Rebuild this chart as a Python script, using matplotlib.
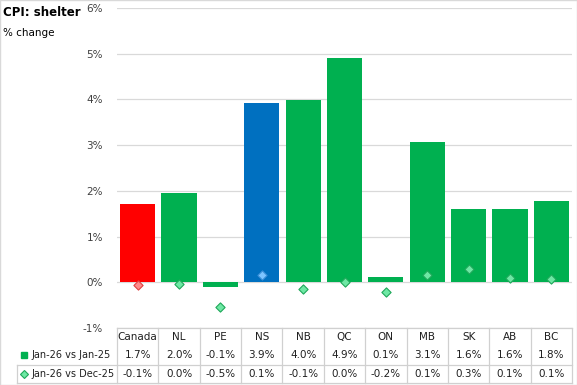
import matplotlib
matplotlib.use("Agg")
import matplotlib.pyplot as plt
from matplotlib.transforms import blended_transform_factory
from matplotlib.patches import Rectangle

# data
regions = ["Canada", "NL", "PE", "NS", "NB", "QC", "ON", "MB", "SK", "AB", "BC"]
yoy = [1.71, 1.96, -0.11, 3.92, 3.98, 4.9, 0.11, 3.06, 1.6, 1.6, 1.78]
mom = [-0.07, -0.04, -0.54, 0.15, -0.15, 0.0, -0.22, 0.15, 0.28, 0.09, 0.07]
yoy_label = "Jan-26 vs Jan-25"
mom_label = "Jan-26 vs Dec-25"
yticks = [-1, 0, 1, 2, 3, 4, 5, 6]

W, H = 577, 385
GREEN = "#00B050"
bar_colors = [GREEN] * len(regions)
bar_colors[0] = "#FF0000"
bar_colors[3] = "#0070C0"
dia_face = ["#6EE8A4"] * len(regions)
dia_edge = ["#1FA85A"] * len(regions)
dia_face[0], dia_edge[0] = "#FF8A8A", "#E04040"
dia_face[3], dia_edge[3] = "#7CC4FF", "#3A8FD8"

plt.rcParams["font.family"] = ["DejaVu Sans"]
fig = plt.figure(figsize=(W / 100, H / 100), dpi=100)
fig.patches.append(Rectangle((0, 0), 1, 1, transform=fig.transFigure,
                             fill=False, edgecolor="#D9D9D9", lw=1))

left, right, top, bottom = 117, 572, 8, 328
ax = fig.add_axes([left / W, 1 - bottom / H, (right - left) / W, (bottom - top) / H])

x = list(range(len(regions)))
ax.bar(x, yoy, width=0.85, color=bar_colors, zorder=2)
for i in x:
    ax.scatter(i, mom[i], marker="D", s=22, facecolor=dia_face[i],
               edgecolor=dia_edge[i], linewidth=0.8, zorder=3)

ax.set_xlim(-0.5, len(regions) - 0.5)
ax.set_ylim(-1, 6)
ax.set_yticks(yticks)
ax.set_yticklabels([f"{t}%" for t in yticks], fontsize=7.5, color="#404040")
ax.tick_params(axis="y", length=0, pad=10)
ax.set_xticks([])
ax.grid(axis="y", color="#D9D9D9", lw=0.9, zorder=0)
for s in ax.spines.values():
    s.set_visible(False)

# title
fig.text(3 / W, 1 - 13 / H, "CPI: shelter", fontsize=8.5, fontweight="bold",
         va="center", ha="left")
fig.text(3 / W, 1 - 33 / H, "% change", fontsize=7.5, va="center", ha="left")


# data table under the plot
def fy(py):
    return 1 - py / H


tr = blended_transform_factory(ax.transData, fig.transFigure)
line_kw = dict(color="#D0D0D0", lw=0.9, clip_on=False)
row_top, row_mid, row_bot = 328, 365, 383


def fmt(v):
    return f"{round(v, 1) + 0.0:.1f}%"


for i, r in enumerate(regions):
    ax.text(i, fy(337), r, transform=tr, ha="center", va="center", fontsize=7.5, color="#202020")
    ax.text(i, fy(355), fmt(yoy[i]), transform=tr, ha="center", va="center", fontsize=7.5, color="#202020")
    ax.text(i, fy(374), fmt(mom[i]), transform=tr, ha="center", va="center", fontsize=7.5, color="#202020")
for b in range(len(regions) + 1):
    ax.plot([b - 0.5, b - 0.5], [fy(row_top), fy(row_bot)], transform=tr, **line_kw)
ax.plot([-0.5, len(regions) - 0.5], [fy(row_top)] * 2, transform=tr, **line_kw)
fig.add_artist(plt.Line2D([17 / W, right / W], [fy(row_mid)] * 2, color="#D0D0D0", lw=0.9))
fig.add_artist(plt.Line2D([17 / W, right / W], [fy(row_bot)] * 2, color="#D0D0D0", lw=0.9))
fig.add_artist(plt.Line2D([17 / W, 17 / W], [fy(row_mid), fy(row_bot)], color="#D0D0D0", lw=0.9))

# row labels with legend keys
fig.add_artist(plt.Line2D([24 / W], [fy(355)], marker="s", markersize=5,
                          color=GREEN, linestyle="none"))
fig.add_artist(plt.Line2D([24 / W], [fy(374)], marker="D", markersize=4.5,
                          markerfacecolor="#6EE8A4", markeredgecolor="#1FA85A",
                          markeredgewidth=0.8, linestyle="none"))
fig.text(31 / W, fy(355), yoy_label, fontsize=7, va="center", ha="left", color="#202020")
fig.text(31 / W, fy(374), mom_label, fontsize=7, va="center", ha="left", color="#202020")

fig.savefig("out.png", dpi=100)
